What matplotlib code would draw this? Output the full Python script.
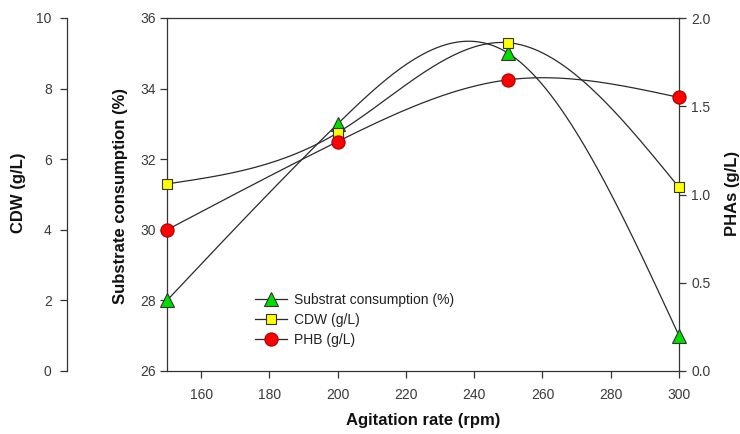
import numpy as np
import matplotlib
matplotlib.use("Agg")
import matplotlib.pyplot as plt
from matplotlib.lines import Line2D

# ---- data ----
agitation = [150, 200, 250, 300]
substrate = [28.0, 33.0, 35.0, 27.0]      # Substrate consumption (%)
cdw = [5.3, 6.75, 9.3, 5.2]               # CDW (g/L)
phb = [0.8, 1.3, 1.65, 1.55]              # PHB (g/L)
x_ticks = [160, 180, 200, 220, 240, 260, 280, 300]
sub_ticks = [26, 28, 30, 32, 34, 36]
cdw_ticks = [0, 2, 4, 6, 8, 10]
pha_ticks = [0.0, 0.5, 1.0, 1.5, 2.0]


def natural_spline(x, y, n=300):
    x = np.asarray(x, float)
    y = np.asarray(y, float)
    k = len(x)
    h = np.diff(x)
    A = np.zeros((k, k))
    b = np.zeros(k)
    A[0, 0] = 1
    A[-1, -1] = 1
    for i in range(1, k - 1):
        A[i, i - 1] = h[i - 1]
        A[i, i] = 2 * (h[i - 1] + h[i])
        A[i, i + 1] = h[i]
        b[i] = 6 * ((y[i + 1] - y[i]) / h[i] - (y[i] - y[i - 1]) / h[i - 1])
    M = np.linalg.solve(A, b)
    xs = np.linspace(x[0], x[-1], n)
    ys = np.empty_like(xs)
    for j, xv in enumerate(xs):
        i = min(np.searchsorted(x, xv, side="right") - 1, k - 2)
        t = xv - x[i]
        hi = h[i]
        ys[j] = (M[i] * (x[i + 1] - xv) ** 3 / (6 * hi) + M[i + 1] * t ** 3 / (6 * hi)
                 + (y[i] / hi - M[i] * hi / 6) * (x[i + 1] - xv)
                 + (y[i + 1] / hi - M[i + 1] * hi / 6) * t)
    return xs, ys


plt.rcParams['font.family'] = ['Liberation Sans', 'DejaVu Sans']

W, H = 740, 434
fig = plt.figure(figsize=(W / 100, H / 100), dpi=100)
L, R, T, B = 167, 679, 18, 371
ax = fig.add_axes([L / W, 1 - B / H, (R - L) / W, (B - T) / H])
ax.set_xlim(150, 300)
ax.set_ylim(26, 36)

ax_cdw = ax.twinx()
ax_cdw.set_ylim(0, 10)
ax_pha = ax.twinx()
ax_pha.set_ylim(0, 2)

spine_col = '#333333'
tick_col = '#3a3a3a'

# main axes styling
for s in ['top', 'bottom', 'left', 'right']:
    ax.spines[s].set_color(spine_col)
    ax.spines[s].set_linewidth(0.9)
ax.set_xticks(x_ticks)
ax.set_yticks(sub_ticks)
ax.tick_params(axis='x', direction='out', length=5, width=0.9, color=spine_col,
               labelsize=10, labelcolor=tick_col, pad=7)
ax.tick_params(axis='y', direction='out', length=5, width=0.9, color=spine_col,
               labelsize=10, labelcolor=tick_col, pad=3, right=False)

# CDW axis on outer left
ax_cdw.yaxis.set_ticks_position('left')
ax_cdw.yaxis.set_label_position('left')
ax_cdw.spines['left'].set_position(('axes', (67 - L) / (R - L)))
ax_cdw.spines['left'].set_visible(True)
ax_cdw.spines['left'].set_color(spine_col)
ax_cdw.spines['left'].set_linewidth(0.9)
for s in ['top', 'bottom', 'right']:
    ax_cdw.spines[s].set_visible(False)
ax_cdw.set_yticks(cdw_ticks)
ax_cdw.tick_params(axis='y', direction='out', length=5, width=0.9, color=spine_col,
                   labelsize=10, labelcolor=tick_col, pad=6)

# PHAs axis on right
for s in ['top', 'bottom', 'left', 'right']:
    ax_pha.spines[s].set_visible(False)
ax_pha.set_yticks(pha_ticks)
ax_pha.set_yticklabels([f"{v:.1f}" for v in pha_ticks])
ax_pha.tick_params(axis='y', direction='out', length=5, width=0.9, color=spine_col,
                   labelsize=10, labelcolor=tick_col, pad=4)

line_col = '#2a2a2a'
edge_col = '#333333'

# curves (all drawn in main axes, using each twin's data transform)
xs, ys = natural_spline(agitation, substrate)
ax.plot(xs, ys, color=line_col, lw=0.9, zorder=3)
xs, ys = natural_spline(agitation, cdw)
ax.plot(xs, ys, color=line_col, lw=0.9, zorder=3, transform=ax_cdw.transData)
xs, ys = natural_spline(agitation, phb)
ax.plot(xs, ys, color=line_col, lw=0.9, zorder=3, transform=ax_pha.transData)

ax.plot(agitation, substrate, ls='none', marker='^', ms=10, mfc='#00dd00', mec=edge_col,
        mew=0.8, zorder=6, clip_on=False)
ax.plot(agitation, cdw, ls='none', marker='s', ms=7.5, mfc='#ffff00', mec=edge_col,
        mew=0.8, zorder=6, clip_on=False, transform=ax_cdw.transData)
ax.plot(agitation, phb, ls='none', marker='o', ms=9.5, mfc='#ff0000', mec='#aa0000',
        mew=0.8, zorder=7, clip_on=False, transform=ax_pha.transData)

ax.set_xlim(150, 300)
ax.set_ylim(26, 36)
ax_cdw.set_ylim(0, 10)
ax_pha.set_ylim(0, 2)

# legend
handles = [
    Line2D([], [], color=line_col, lw=0.9, marker='^', ms=10, mfc='#00dd00', mec=edge_col, mew=0.8),
    Line2D([], [], color=line_col, lw=0.9, marker='s', ms=7.5, mfc='#ffff00', mec=edge_col, mew=0.8),
    Line2D([], [], color=line_col, lw=0.9, marker='o', ms=9.5, mfc='#ff0000', mec='#aa0000', mew=0.8),
]
labels = ['Substrat consumption (%)', 'CDW (g/L)', 'PHB (g/L)']
leg = ax.legend(handles, labels, loc='upper left',
                bbox_to_anchor=((255 - L) / (R - L), (B - 293) / (B - T)),
                frameon=False, fontsize=10, handlelength=2.3, handletextpad=0.5,
                labelspacing=0.42, borderaxespad=0, borderpad=0)
for t in leg.get_texts():
    t.set_color('#222222')

# axis labels
lab_kw = dict(fontsize=12, fontweight='bold', color='#111111')
fig.text((L + R) / 2 / W, 1 - 421 / H, 'Agitation rate (rpm)', ha='center', va='center', **lab_kw)
fig.text(19 / W, 1 - 193 / H, 'CDW (g/L)', rotation=90, ha='center', va='center', **lab_kw)
fig.text(121 / W, 1 - 196 / H, 'Substrate consumption (%)', rotation=90, ha='center', va='center', **lab_kw)
fig.text(732 / W, 1 - 193 / H, 'PHAs (g/L)', rotation=90, ha='center', va='center', **lab_kw)

fig.savefig('out.png', dpi=100)
